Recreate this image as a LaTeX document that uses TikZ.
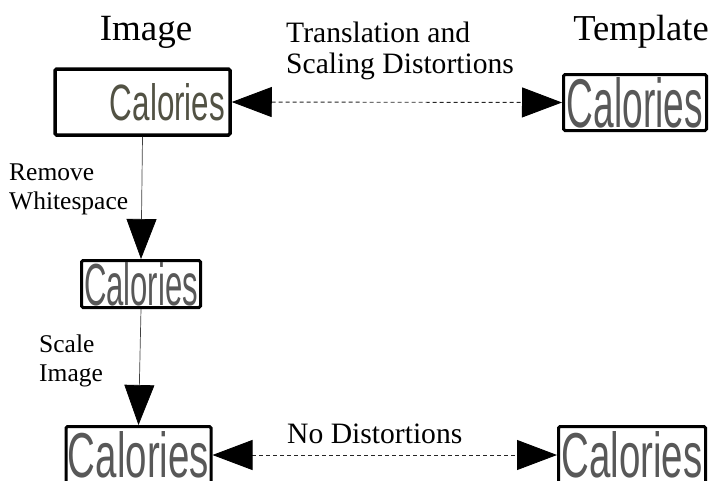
\documentclass[tikz,border=0pt]{standalone}
\usepackage{fontspec}
\setmainfont{Liberation Serif}
\newfontfamily\calfont{Liberation Sans}
\usetikzlibrary{arrows.meta}
\definecolor{calgray}{RGB}{88,88,88}
\definecolor{calolive}{RGB}{82,82,68}
\newcommand\calword[3]{\textcolor{#3}{\resizebox{#1}{#2}{\calfont Calories}}}
\tikzset{
  imgbox/.style={draw=black, rectangle, rounded corners=1.5pt, inner sep=0pt, line width=3pt},
  lbl/.style={inner sep=0pt, text=black},
  bigtip/.tip={Triangle[length=40pt,width=30pt]},
  conn/.style={draw=black!75, line width=0.7pt},
  dconn/.style={draw=black!85, line width=0.9pt, dash pattern=on 4pt off 3pt},
}
\begin{document}
\begin{tikzpicture}[x=1pt,y=-1pt]
\useasboundingbox (0,0) rectangle (710,480);
% boxes
\node[imgbox, line width=3.5pt, minimum width=175pt, minimum height=66pt] (b1) at (142.5,102)
  {\hspace*{50pt}\calword{115pt}{37pt}{calolive}};
\node[imgbox, minimum width=143pt, minimum height=56pt] (b2) at (635,102.5)
  {\calword{136pt}{50pt}{calgray}};
\node[imgbox, minimum width=119pt, minimum height=47pt] (b3) at (141,284)
  {\calword{114pt}{43pt}{calgray}};
\node[imgbox, minimum width=145pt, minimum height=57pt] (b4) at (138.5,455)
  {\calword{141pt}{46pt}{calgray}};
\node[imgbox, minimum width=147pt, minimum height=57pt] (b5) at (632,455)
  {\calword{141pt}{46pt}{calgray}};
% labels
\node[lbl, anchor=base] (limage) at (146,40) {\fontsize{37}{42}\selectfont Image};
\node[lbl, anchor=base] (ltemplate) at (641,40) {\fontsize{36.5}{42}\selectfont Template};
\node[lbl, anchor=base west] (ltrans) at (286,42)
  {\fontsize{29.6}{31}\selectfont\begin{tabular}[t]{@{}l@{}}Translation and\\Scaling Distortions\end{tabular}};
\node[lbl, anchor=base west] (lremove) at (9,180)
  {\fontsize{25.5}{29}\selectfont\begin{tabular}[t]{@{}l@{}}Remove\\Whitespace\end{tabular}};
\node[lbl, anchor=base west] (lscale) at (39,352)
  {\fontsize{25.5}{29}\selectfont\begin{tabular}[t]{@{}l@{}}Scale\\Image\end{tabular}};
\node[lbl, anchor=base west] (lnodist) at (287,443)
  {\fontsize{29.6}{31}\selectfont No Distortions};
% connectors
\draw[dconn, {bigtip[black]}-{bigtip[black]}] (b1.east) -- (b2.west);
\draw[conn, -{bigtip[black]}] (b1.south) -- (b3.north);
\draw[conn, -{bigtip[black]}] (b3.south) -- (b4.north);
\draw[dconn, {bigtip[black]}-{bigtip[black]}] (b4.east) -- (b5.west);
\end{tikzpicture}
\end{document}
